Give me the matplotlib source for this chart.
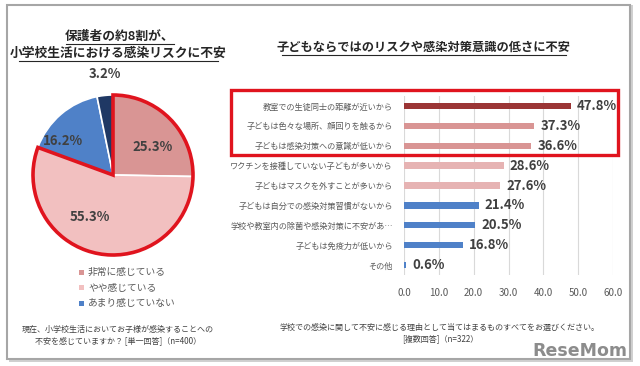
import matplotlib
matplotlib.use("Agg")
import matplotlib.pyplot as plt
from matplotlib.patches import Wedge, Rectangle

plt.rcParams['font.family'] = ['Noto Sans CJK JP', 'DejaVu Sans']

# ---- data ----
pie_labels = ["非常に感じている", "やや感じている", "あまり感じていない", "まったく感じていない"]
pie_values = [25.3, 55.3, 16.2, 3.2]
pie_colors = ["#d99594", "#f2c0c0", "#4f81c8", "#1f3864"]

bar_labels = ["教室での生徒同士の距離が近いから",
              "子どもは色々な場所、顔回りを触るから",
              "子どもは感染対策への意識が低いから",
              "ワクチンを接種していない子どもが多いから",
              "子どもはマスクを外すことが多いから",
              "子どもは自分での感染対策習慣がないから",
              "学校や教室内の除菌や感染対策に不安があ…",
              "子どもは免疫力が低いから",
              "その他"]
bar_values = [47.8, 37.3, 36.6, 28.6, 27.6, 21.4, 20.5, 16.8, 0.6]
bar_colors = ["#9b3535", "#d99594", "#d99594", "#e6b3b3", "#e6b3b3",
              "#4f81c8", "#4f81c8", "#4f81c8", "#4f81c8"]
xticks = [0, 10, 20, 30, 40, 50, 60]

W, H = 640, 366
fig = plt.figure(figsize=(W / 100, H / 100), dpi=100)

def fx(px):
    return px / W

def fy(py):
    return 1 - py / H

# outer frame with shadow
fig.patches.append(Rectangle((fx(9), fy(362)), fx(624), 357 / H, transform=fig.transFigure,
                             facecolor="#d0d0d0", edgecolor="none", zorder=-3))
fig.patches.append(Rectangle((fx(7), fy(359)), fx(623), 354 / H, transform=fig.transFigure,
                             facecolor="white", edgecolor="#a6a6a6", linewidth=1.5, zorder=-2))

# ---- titles ----
fig.text(fx(120), fy(36), "保護者の約8割が、", ha="center", va="center", fontsize=9.2,
         fontweight="bold", color="#262626")
fig.text(fx(118), fy(53), "小学校生活における感染リスクに不安", ha="center", va="center", fontsize=9.2,
         fontweight="bold", color="#262626")
fig.add_artist(plt.Line2D([fx(66), fx(174)], [fy(44), fy(44)], color="#262626", lw=0.8))
fig.add_artist(plt.Line2D([fx(19), fx(218)], [fy(61), fy(61)], color="#262626", lw=0.8))

fig.text(fx(424), fy(47), "子どもならではのリスクや感染対策意識の低さに不安", ha="center", va="center",
         fontsize=8.8, fontweight="bold", color="#262626")
fig.add_artist(plt.Line2D([fx(282), fx(566)], [fy(55), fy(55)], color="#262626", lw=0.8))

# ---- pie ----
axp = fig.add_axes([fx(13), fy(275), fx(200), 200 / H])
wedges, _ = axp.pie(pie_values, colors=pie_colors, startangle=90, counterclock=False,
                    radius=1, wedgeprops=dict(edgecolor="white", linewidth=1.2))
axp.set_xlim(-1.25, 1.25)
axp.set_ylim(-1.25, 1.25)
axp.set_aspect("equal")
axp.axis("off")
total = sum(pie_values)
sweep = (pie_values[0] + pie_values[1]) / total * 360
axp.add_patch(Wedge((0, 0), 1.0, 90 - sweep, 90, facecolor="none", edgecolor="#e0141e",
                    linewidth=2.6, zorder=5))
label_pos = [(0.5, 0.35), (-0.29, -0.52), (-0.62, 0.42), (-0.1, 1.26)]
for v, (x, y) in zip(pie_values, label_pos):
    axp.text(x, y, f"{v}%", ha="center", va="center", fontsize=9.5, fontweight="bold",
             color="#404040", zorder=6, clip_on=False)

# legend
for i, (lab, col) in enumerate(zip(pie_labels[:3], pie_colors[:3])):
    y = 272 + i * 15.5
    fig.patches.append(Rectangle((fx(79), fy(y + 2.5)), fx(5), 5 / H, transform=fig.transFigure,
                                 facecolor=col, edgecolor="none"))
    fig.text(fx(88), fy(y), lab, ha="left", va="center", fontsize=7, color="#595959")

fig.text(fx(118), fy(335), "現在、小学校生活においてお子様が感染することへの\n不安を感じていますか？ [単一回答]（n=400）",
         ha="center", va="center", fontsize=5.8, color="#404040", linespacing=1.4)

# ---- bar chart ----
axb = fig.add_axes([fx(404), fy(275), fx(209), 179 / H])
ys = list(range(len(bar_values)))
axb.barh(ys, bar_values, height=0.32, color=bar_colors, zorder=3)
axb.set_xlim(0, 60)
axb.set_ylim(8.5, -0.5)
axb.set_xticks(xticks)
axb.set_xticklabels([f"{t:.1f}" for t in xticks], fontsize=7, color="#595959")
axb.set_yticks(ys)
axb.set_yticklabels(bar_labels, fontsize=5.9, color="#595959")
axb.tick_params(axis="both", length=0)
axb.tick_params(axis="x", pad=9)
axb.tick_params(axis="y", pad=8)
axb.grid(axis="x", color="#d9d9d9", linewidth=0.8, zorder=0)
axb.set_axisbelow(True)
for s in axb.spines.values():
    s.set_visible(False)
for y, v in zip(ys, bar_values):
    axb.text(v + 1.8, y, f"{v}%", ha="left", va="center", fontsize=9.5, fontweight="bold",
             color="#404040", zorder=4, clip_on=False)

# red highlight box
fig.patches.append(Rectangle((fx(231), fy(155)), fx(387), 65 / H, transform=fig.transFigure,
                             facecolor="none", edgecolor="#e0141e", linewidth=2.4, zorder=5))

fig.text(fx(440), fy(333), "学校での感染に関して不安に感じる理由として当てはまるものすべてをお選びください。\n[複数回答]（n=322）",
         ha="center", va="center", fontsize=5.8, color="#404040", linespacing=1.4)

fig.text(fx(627), fy(351), "ReseMom", ha="right", va="center", fontsize=12.5, fontweight="bold",
         color="#8c8c8c", family=["DejaVu Sans"])

fig.savefig("out.png", dpi=100)
